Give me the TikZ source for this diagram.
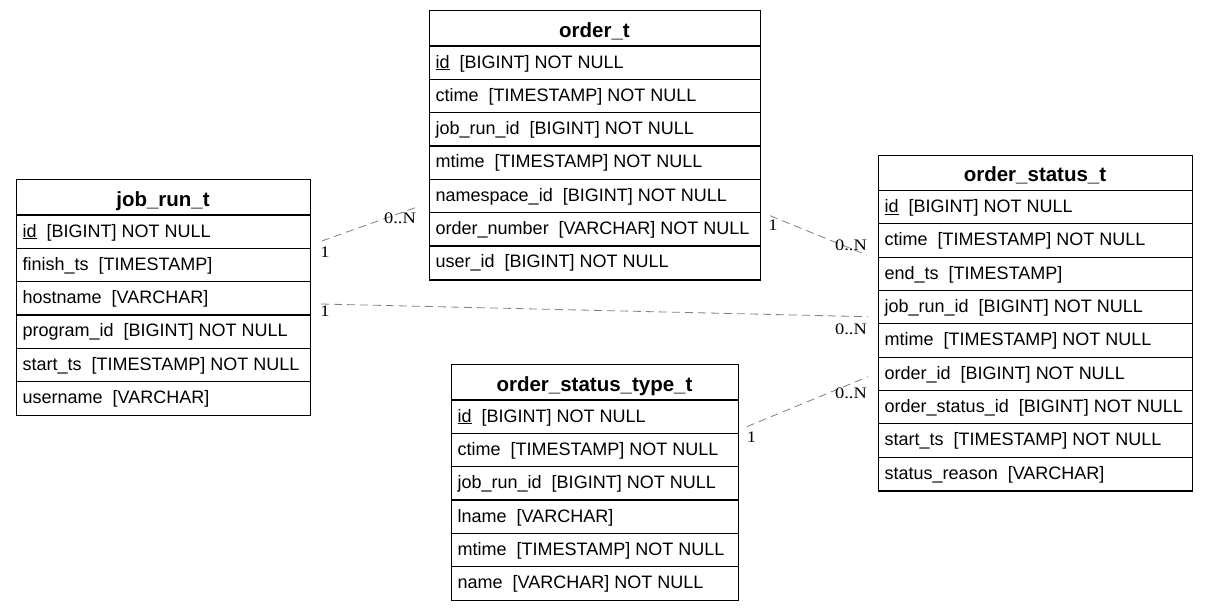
\documentclass[tikz,border=0pt]{standalone}
\usepackage{fontspec}
\setmainfont{Liberation Sans}
\newfontfamily\lblfont{Liberation Serif}[FakeStretch=1.15]
\usetikzlibrary{calc}
\tikzset{
  tblbox/.style={draw=black, line width=1.3pt, inner sep=0pt, anchor=north west},
  sepline/.style={draw=black, line width=1.2pt},
  rowtxt/.style={anchor=base west, inner sep=0pt, font=\fontsize{18}{20}\selectfont},
  hdrtxt/.style={anchor=base, inner sep=0pt, font=\fontsize{20.5}{22}\selectfont\bfseries},
  rel/.style={draw=black!50, line width=0.8pt, dash pattern=on 8pt off 5pt},
  card/.style={font=\lblfont\fontsize{16}{17}\selectfont, inner sep=0pt, anchor=center},
}
% #1 name, #2 left, #3 top, #4 right, #5 number of rows, #6 title, #7 rows
\newcommand\ertable[7]{%
  \node[tblbox, minimum width={(#4-#2)*1pt}, minimum height={(36+#5*33.33)*1pt}] (#1) at (#2,#3) {};
  \node[hdrtxt] (#1-h) at ({(#2+#4)/2},#3+27) {#6};
  \foreach \r [count=\i] in {#7} {
    \draw[sepline] (#2,{#3+36+(\i-1)*33.33}) -- (#4,{#3+36+(\i-1)*33.33});
    \node[rowtxt] (#1-\i) at (#2+6.5,{#3+36+(\i-1)*33.33+22}) {\r};
  }
}
\newcommand\pk[1]{\underline{#1}}
\begin{document}
\begin{tikzpicture}[x=1pt,y=-1pt]
\useasboundingbox (0,0) rectangle (1207,611);
\fill[white] (0,0) rectangle (1207,611);

\ertable{job}{16}{179}{310}{6}{job\_run\_t}{%
  \pk{id}\ \ [BIGINT] NOT NULL,
  finish\_ts\ \ [TIMESTAMP],
  hostname\ \ [VARCHAR],
  program\_id\ \ [BIGINT] NOT NULL,
  start\_ts\ \ [TIMESTAMP] NOT NULL,
  username\ \ [VARCHAR]}

\ertable{order}{429}{10}{760}{7}{order\_t}{%
  \pk{id}\ \ [BIGINT] NOT NULL,
  ctime\ \ [TIMESTAMP] NOT NULL,
  job\_run\_id\ \ [BIGINT] NOT NULL,
  mtime\ \ [TIMESTAMP] NOT NULL,
  namespace\_id\ \ [BIGINT] NOT NULL,
  order\_number\ \ [VARCHAR] NOT NULL,
  user\_id\ \ [BIGINT] NOT NULL}

\ertable{status}{878}{154.5}{1192}{9}{order\_status\_t}{%
  \pk{id}\ \ [BIGINT] NOT NULL,
  ctime\ \ [TIMESTAMP] NOT NULL,
  end\_ts\ \ [TIMESTAMP],
  job\_run\_id\ \ [BIGINT] NOT NULL,
  mtime\ \ [TIMESTAMP] NOT NULL,
  order\_id\ \ [BIGINT] NOT NULL,
  order\_status\_id\ \ [BIGINT] NOT NULL,
  start\_ts\ \ [TIMESTAMP] NOT NULL,
  status\_reason\ \ [VARCHAR]}

\ertable{type}{451}{364}{738}{6}{order\_status\_type\_t}{%
  \pk{id}\ \ [BIGINT] NOT NULL,
  ctime\ \ [TIMESTAMP] NOT NULL,
  job\_run\_id\ \ [BIGINT] NOT NULL,
  lname\ \ [VARCHAR],
  mtime\ \ [TIMESTAMP] NOT NULL,
  name\ \ [VARCHAR] NOT NULL}

% connector end points
\coordinate (c1a) at (321.7,241);
\coordinate (c1b) at (418,206.7);
\coordinate (c2a) at (321,304);
\coordinate (c2b) at (868,316.7);
\coordinate (c3a) at (770,215.7);
\coordinate (c3b) at (866.7,255);
\coordinate (c4a) at (746.7,426.7);
\coordinate (c4b) at (868,376.7);

\draw[rel] (c1a) -- (c1b);
\draw[rel] (c2a) -- (c2b);
\draw[rel] (c3a) -- (c3b);
\draw[rel] (c4a) -- (c4b);

\node[card] (l1a) at (325,252) {1};
\node[card] (l1b) at (400,218) {0..N};
\node[card] (l2a) at (325,311) {1};
\node[card] (l2b) at (851,329) {0..N};
\node[card] (l3a) at (773,225) {1};
\node[card] (l3b) at (851,245) {0..N};
\node[card] (l4a) at (751.5,437.5) {1};
\node[card] (l4b) at (851,393) {0..N};
\end{tikzpicture}
\end{document}
